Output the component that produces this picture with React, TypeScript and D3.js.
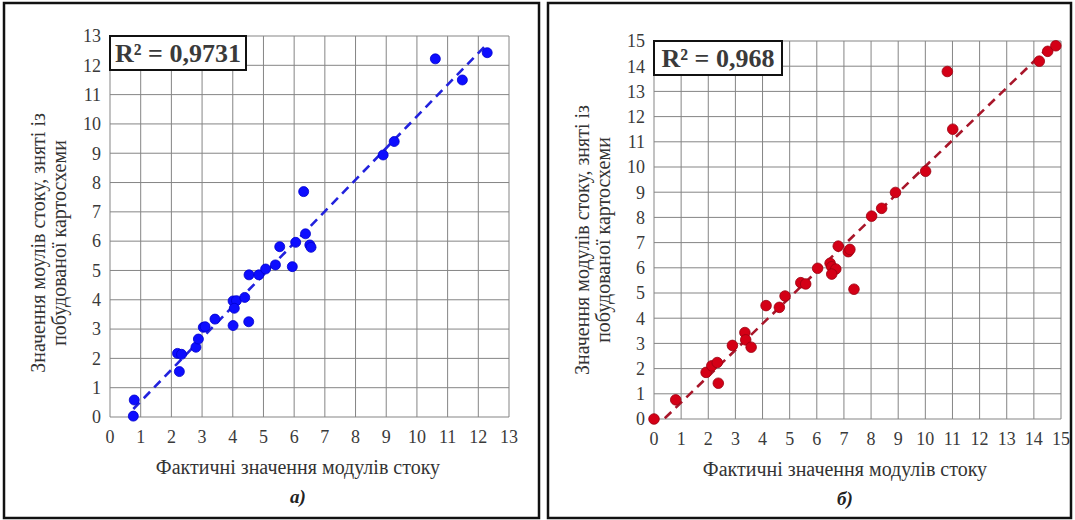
import React from "react";
import * as d3 from "d3";

// Panel a) — actual vs map-derived runoff moduli
const actualA = [0.76, 0.79, 2.26, 2.2, 2.33, 2.8, 2.88, 3.04, 3.1, 3.42, 4.01, 4.01, 4.12, 4.05, 4.39, 4.52, 4.53, 4.85, 5.07, 5.39, 5.53, 5.94, 6.05, 6.37, 6.51, 6.55, 6.31, 8.9, 9.26, 10.6, 11.48, 12.29];
const mappedA = [0.03, 0.58, 1.55, 2.17, 2.14, 2.38, 2.66, 3.06, 3.08, 3.34, 3.12, 3.96, 3.97, 3.71, 4.08, 3.25, 4.85, 4.85, 5.05, 5.19, 5.81, 5.13, 5.96, 6.25, 5.87, 5.79, 7.69, 8.94, 9.4, 12.22, 11.5, 12.43];

// Panel б)
const actualB = [0, 0.8, 1.92, 2.13, 2.33, 2.37, 2.89, 3.35, 3.38, 3.58, 4.13, 4.62, 4.83, 5.41, 5.59, 6.03, 6.49, 6.55, 6.7, 6.55, 6.79, 7.16, 7.22, 7.37, 8.02, 8.39, 8.9, 10.01, 11.01, 10.81, 14.2, 14.51, 14.81];
const mappedB = [0, 0.76, 1.85, 2.11, 2.24, 1.42, 2.92, 3.43, 3.14, 2.85, 4.5, 4.43, 4.88, 5.41, 5.36, 5.98, 6.18, 6.04, 5.95, 5.75, 6.86, 6.64, 6.73, 5.15, 8.05, 8.36, 8.99, 9.83, 11.5, 13.79, 14.2, 14.59, 14.81];

const ticksA = d3.range(0, 14);
const ticksB = d3.range(0, 16);
const r2A = "R² = 0,9731";
const r2B = "R² = 0,968";
const xTitle = "Фактичні значення модулів стоку";
const yTitleA = ["Значення моулів стоку, зняті із", "побудованої картосхеми"];
const yTitleB = ["Значення модулів стоку, зняті із", "побудованої картосхеми"];

function fit(xs: number[], ys: number[]) {
  const mx = d3.mean(xs)!, my = d3.mean(ys)!;
  let sxy = 0, sxx = 0;
  xs.forEach((x, i) => { sxy += (x - mx) * (ys[i] - my); sxx += (x - mx) * (x - mx); });
  const b = sxy / sxx;
  return { b, a: my - b * mx };
}

type PanelProps = {
  id: string;
  frame: [number, number, number, number];
  plot: [number, number, number, number];
  max: number;
  ticks: number[];
  xs: number[];
  ys: number[];
  fill: string;
  stroke: string;
  lineColor: string;
  r2: string;
  boxW: number;
  yTitle: string[];
  yTitleX: [number, number];
  yTitleY: number;
  xTitleX: number;
  sub: string;
  r: number;
};

const FONT = '"Liberation Serif", "Times New Roman", "DejaVu Serif", serif';

function Panel(p: PanelProps) {
  const [px0, px1, py0, py1] = p.plot;
  const x = d3.scaleLinear().domain([0, p.max]).range([px0, px1]);
  const y = d3.scaleLinear().domain([0, p.max]).range([py0, py1]);
  const { a, b } = fit(p.xs, p.ys);
  const xmin = d3.min(p.xs)!, xmax = d3.max(p.xs)!;
  const line = d3.line<number>().x((v) => x(v)).y((v) => y(a + b * v));
  const ts = { fontFamily: FONT };
  return (
    <g style={ts}>
      <defs>
        <clipPath id={p.id}>
          <rect x={px0} y={py1} width={px1 - px0} height={py0 - py1} />
        </clipPath>
      </defs>
      <rect x={p.frame[0]} y={p.frame[1]} width={p.frame[2]} height={p.frame[3]} fill="white" stroke="#111" strokeWidth={2.5} />
      {p.ticks.map((t) => (
        <line key={"v" + t} x1={x(t)} x2={x(t)} y1={py0} y2={py1} stroke="#858585" strokeWidth={1} />
      ))}
      {p.ticks.map((t) => (
        <line key={"h" + t} x1={px0} x2={px1} y1={y(t)} y2={y(t)} stroke="#858585" strokeWidth={1} />
      ))}
      {p.ticks.map((t) => (
        <text key={"yt" + t} x={px0 - 9} y={y(t)} dy="0.35em" textAnchor="end" fontSize={18} fill="#3a3a3a" style={ts}>{t}</text>
      ))}
      {p.ticks.map((t) => (
        <text key={"xt" + t} x={x(t)} y={py0 + 26} textAnchor="middle" fontSize={18} fill="#3a3a3a" style={ts}>{t}</text>
      ))}
      <path d={line([xmin, xmax]) || ""} fill="none" stroke={p.lineColor} strokeWidth={2.6} strokeDasharray="9,6" clipPath={`url(#${p.id})`} />
      {p.xs.map((v, i) => (
        <circle key={"c" + i} cx={x(v)} cy={y(p.ys[i])} r={p.r} fill={p.fill} stroke={p.stroke} strokeWidth={0.8} />
      ))}
      <rect x={px0} y={py1} width={p.boxW} height={34} fill="white" stroke="#111" strokeWidth={2} />
      <text x={px0 + p.boxW / 2} y={py1 + 17} dy="0.36em" textAnchor="middle" fontSize={26} fontWeight="bold" fill="#3a3a3a" style={ts}>{p.r2}</text>
      {p.yTitle.map((s, i) => (
        <text key={"yl" + i} transform={`translate(${p.yTitleX[i]},${p.yTitleY}) rotate(-90)`} textAnchor="middle" dy="0.35em" fontSize={20} fill="#333" style={ts}>{s}</text>
      ))}
      <text x={p.xTitleX} y={py0 + 57} textAnchor="middle" fontSize={20} fill="#333" style={ts}>{xTitle}</text>
      <text x={p.xTitleX} y={py0 + 86} textAnchor="middle" fontSize={19} fontWeight="bold" fontStyle="italic" fill="#222" style={ts}>{p.sub}</text>
    </g>
  );
}

export default function App() {
  return (
    <svg width={1075} height={520} style={{ position: "absolute", left: 0, top: 0 }}>
      <rect width={1075} height={520} fill="white" />
      <Panel id="clipA" frame={[4, 3, 535, 515]} plot={[110, 509, 417, 36]} max={13} ticks={ticksA}
        xs={actualA} ys={mappedA} fill="#0d0dff" stroke="#0000cc" lineColor="#2222dd"
        r2={r2A} boxW={136} yTitle={yTitleA} yTitleX={[38, 59]} yTitleY={243} xTitleX={298} sub="а)" r={5} />
      <Panel id="clipB" frame={[548, 3, 523, 515]} plot={[654, 1061, 419, 41]} max={15} ticks={ticksB}
        xs={actualB} ys={mappedB} fill="#d40016" stroke="#9a0010" lineColor="#a8162a"
        r2={r2B} boxW={128} yTitle={yTitleB} yTitleX={[582, 603]} yTitleY={240} xTitleX={845} sub="б)" r={5.3} />
    </svg>
  );
}
